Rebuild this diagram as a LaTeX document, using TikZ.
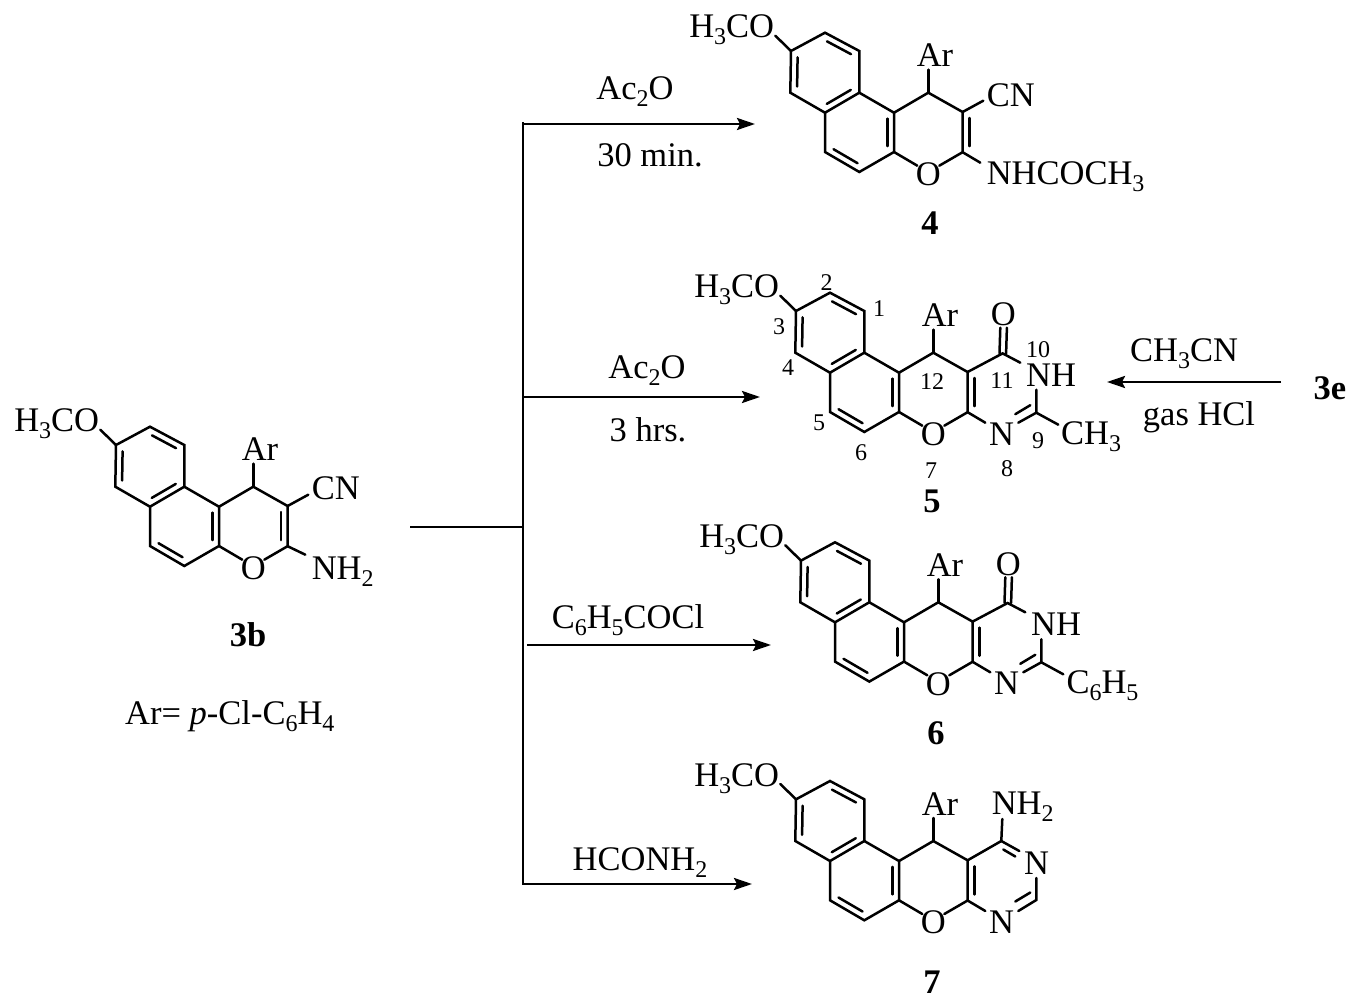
\documentclass[tikz,border=0pt]{standalone}
\usepackage{fontspec}
\setmainfont{Liberation Serif}
\usetikzlibrary{calc,arrows.meta}
\newcommand{\bigfs}{\fontsize{34.5}{34.5}\selectfont}
\newcommand{\smallfs}{\fontsize{24}{24}\selectfont}
\newcommand{\dn}[1]{\raisebox{-7pt}{\smallfs #1}}
\tikzset{
  x=1pt,y=-1pt,
  bond/.style={line width=2.5pt,line join=miter,line cap=round},
  atomw/.style={anchor=base west,inner sep=0pt,font=\bigfs},
  atome/.style={anchor=base east,inner sep=0pt,font=\bigfs},
  atomc/.style={anchor=base,inner sep=0pt,font=\bigfs},
  txt/.style={anchor=base,inner sep=0pt,font=\bigfs},
  cmpd/.style={anchor=base,inner sep=0pt,font=\bigfs\bfseries},
  num/.style={inner sep=0pt,font=\smallfs},
  rxn/.style={line width=2.5pt,-{Stealth[length=18pt,width=12pt,inset=3pt]}},
  line/.style={line width=2.5pt}
}
% inner line of a double bond, on the left of the direction a to b
\newcommand{\innerbond}[2]{\draw[bond] ($(#1)!.15!(#2)!6.7pt!90:(#2)$) -- ($(#2)!.15!(#1)!6.7pt!-90:(#1)$);}
% tricyclic core shared by every compound; origin is the CH carrying Ar
\newcommand{\core}{%
  \coordinate (a3) at (-137.3,-41.7);
  \coordinate (a2) at (-103.3,-60);
  \coordinate (a1) at (-69,-41.7);
  \coordinate (a10) at (-69,0);
  \coordinate (a4a) at (-103.3,20);
  \coordinate (a4) at (-138,0);
  \coordinate (c1) at (-34.3,20);
  \coordinate (c2) at (-34.3,59.3);
  \coordinate (c6) at (-69,79.3);
  \coordinate (c5) at (-103.3,59.3);
  \coordinate (ch) at (0,0);
  \coordinate (r1) at (34.3,19.3);
  \coordinate (r2) at (34.3,59.5);
  \coordinate (oL) at (-11,73);
  \coordinate (oR) at (11,73);
  \coordinate (arB) at (0,-23);
  \coordinate (omeA) at (-153,-57);
  \node[atome] (ome) at (-154,-55) {H\dn{3}CO};
  \node[atomc] (ar) at (6.7,-26) {Ar};
  \node[atomc] (o) at (0,92.7) {O};
  \draw[bond] (a3) -- (a2) -- (a1) -- (a10) -- (a4a) -- (a4) -- cycle;
  \draw[bond] (omeA) -- (a3);
  \draw[bond] (a10) -- (c1) -- (c2) -- (c6) -- (c5) -- (a4a);
  \draw[bond] (c1) -- (ch) -- (r1) -- (r2) -- (oR);
  \draw[bond] (c2) -- (oL);
  \draw[bond] (ch) -- (arB);
  \innerbond{a3}{a4}
  \innerbond{a1}{a2}
  \innerbond{a4a}{a10}
  \innerbond{c2}{c1}
  \innerbond{c5}{c6}
}
% fused pyrimidinone with C=O, NH and N
\newcommand{\pyrimidinone}{%
  \coordinate (cq) at (69.3,0.7);
  \coordinate (oA) at (66.2,0.7);
  \coordinate (oB) at (67,-25);
  \coordinate (oC) at (72.8,0.7);
  \coordinate (oD) at (73.6,-25);
  \coordinate (nhA) at (87,10);
  \coordinate (nhB) at (103,37);
  \coordinate (c9) at (103,60);
  \coordinate (nA) at (85,70);
  \coordinate (nB) at (52,70);
  \coordinate (rA) at (125,72);
  \coordinate (i1) at (97,52.5);
  \coordinate (i2) at (82,61.5);
  \node[atomc] (oc) at (70,-27) {O};
  \node[atomw] (nh) at (92.7,33.3) {NH};
  \node[atomc] (n) at (68.3,92.3) {N};
  \draw[bond] (r1) -- (cq) -- (nhA);
  \draw[bond] (oA) -- (oB);
  \draw[bond] (oC) -- (oD);
  \draw[bond] (nhB) -- (c9) -- (nA);
  \draw[bond] (r2) -- (nB);
  \draw[bond] (c9) -- (rA);
  \draw[bond] (i1) -- (i2);
  \innerbond{r1}{r2}
}
\begin{document}
\begin{tikzpicture}
\useasboundingbox (0,0) rectangle (1360,1000);
\fill[white] (0,0) rectangle (1360,1000);

% 3b
\begin{scope}[shift={(253.3,486.7)},name prefix=mb-]
  \core
  \coordinate (cnA) at (55,8);
  \coordinate (nh2A) at (52,68);
  \node[atomw] (cn) at (58.3,12.3) {CN};
  \node[atomw] (nh2) at (58.3,92.7) {NH\dn{2}};
  \draw[bond] (r1) -- (cnA);
  \draw[bond] (r2) -- (nh2A);
  \innerbond{r2}{r1}
\end{scope}

% 4
\begin{scope}[shift={(928.3,92.7)},name prefix=m4-]
  \core
  \coordinate (cnA) at (55,8);
  \coordinate (nh2A) at (52,70);
  \node[atomw] (cn) at (58.3,14) {CN};
  \node[atomw] (nh2) at (58.3,92.3) {NHCOCH\dn{3}};
  \draw[bond] (r1) -- (cnA);
  \draw[bond] (r2) -- (nh2A);
  \innerbond{r1}{r2}
\end{scope}

% 5
\begin{scope}[shift={(933.3,352.7)},name prefix=m5-]
  \core
  \pyrimidinone
  \node[atomw] (ch3) at (127.7,91.7) {CH\dn{3}};
\end{scope}

% 6
\begin{scope}[shift={(938.3,602.3)},name prefix=m6-]
  \core
  \pyrimidinone
  \node[atomw] (ph) at (128,91) {C\dn{6}H\dn{5}};
\end{scope}

% 7
\begin{scope}[shift={(933.3,841)},name prefix=m7-]
  \core
  \coordinate (cq) at (68,0);
  \coordinate (nh2A) at (69,-22);
  \coordinate (n3A) at (86,10);
  \coordinate (n3B) at (103,37);
  \coordinate (c2p) at (103,59);
  \coordinate (n1A) at (85,70);
  \coordinate (n1B) at (52,70);
  \coordinate (i1) at (82,15.5);
  \coordinate (i2) at (70,8.5);
  \coordinate (i3) at (97,51.5);
  \coordinate (i4) at (82,60.5);
  \node[atomw] (nh2) at (58.3,-26.7) {NH\dn{2}};
  \node[atomc] (n3) at (103.3,33) {N};
  \node[atomc] (n1) at (68.3,92.3) {N};
  \draw[bond] (r1) -- (cq) -- (n3A);
  \draw[bond] (cq) -- (nh2A);
  \draw[bond] (n3B) -- (c2p) -- (n1A);
  \draw[bond] (r2) -- (n1B);
  \draw[bond] (i2) -- (i1);
  \draw[bond] (i3) -- (i4);
  \innerbond{r1}{r2}
\end{scope}

% atom numbering of 5
\node[num] (l1) at (879,309) {1};
\node[num] (l2) at (826.7,283) {2};
\node[num] (l3) at (779,327) {3};
\node[num] (l4) at (788,368) {4};
\node[num] (l5) at (819,423) {5};
\node[num] (l6) at (861,453) {6};
\node[num] (l7) at (931,471) {7};
\node[num] (l8) at (1007,469) {8};
\node[num] (l9) at (1038,441) {9};
\node[num] (l10) at (1038,350) {10};
\node[num] (l11) at (1002,381) {11};
\node[num] (l12) at (932,382) {12};

% compound labels
\node[cmpd] (n3b) at (248,646) {3b};
\node[txt,anchor=base west] (arnote) at (125,724) {Ar= \textit{p}-Cl-C\dn{6}H\dn{4}};
\node[cmpd] (n4) at (930,235) {4};
\node[cmpd] (n5) at (932,512) {5};
\node[cmpd] (n6) at (936,744) {6};
\node[cmpd] (n7) at (932,993) {7};
\node[cmpd] (n3e) at (1330,399) {3e};

% scheme lines
\coordinate (s0) at (410,527);
\coordinate (s1) at (523,527);
\coordinate (t) at (523,122);
\coordinate (b) at (523,885);
\coordinate (t4) at (523,124);
\coordinate (e4) at (755,124);
\coordinate (t5) at (523,397);
\coordinate (e5) at (760,397);
\coordinate (t6) at (527,645);
\coordinate (e6) at (771,645);
\coordinate (t7) at (523,884);
\coordinate (e7) at (752,884);
\coordinate (t3e) at (1281,382);
\coordinate (e3e) at (1107,382);
\draw[line] (s0) -- (s1);
\draw[line] (t) -- (b);
\draw[rxn] (t4) -- (e4);
\draw[rxn] (t5) -- (e5);
\draw[rxn] (t6) -- (e6);
\draw[rxn] (t7) -- (e7);
\draw[rxn] (t3e) -- (e3e);

% reagents
\node[txt] (r4a) at (635,100) {Ac\dn{2}O};
\node[txt] (r4b) at (650,167) {30 min.};
\node[txt] (r5a) at (647,378) {Ac\dn{2}O};
\node[txt] (r5b) at (648,441) {3 hrs.};
\node[txt] (r6) at (628,628) {C\dn{6}H\dn{5}COCl};
\node[txt] (r7) at (640,870) {HCONH\dn{2}};
\node[txt] (r3ea) at (1184,361) {CH\dn{3}CN};
\node[txt] (r3eb) at (1199,425) {gas HCl};
\end{tikzpicture}
\end{document}
